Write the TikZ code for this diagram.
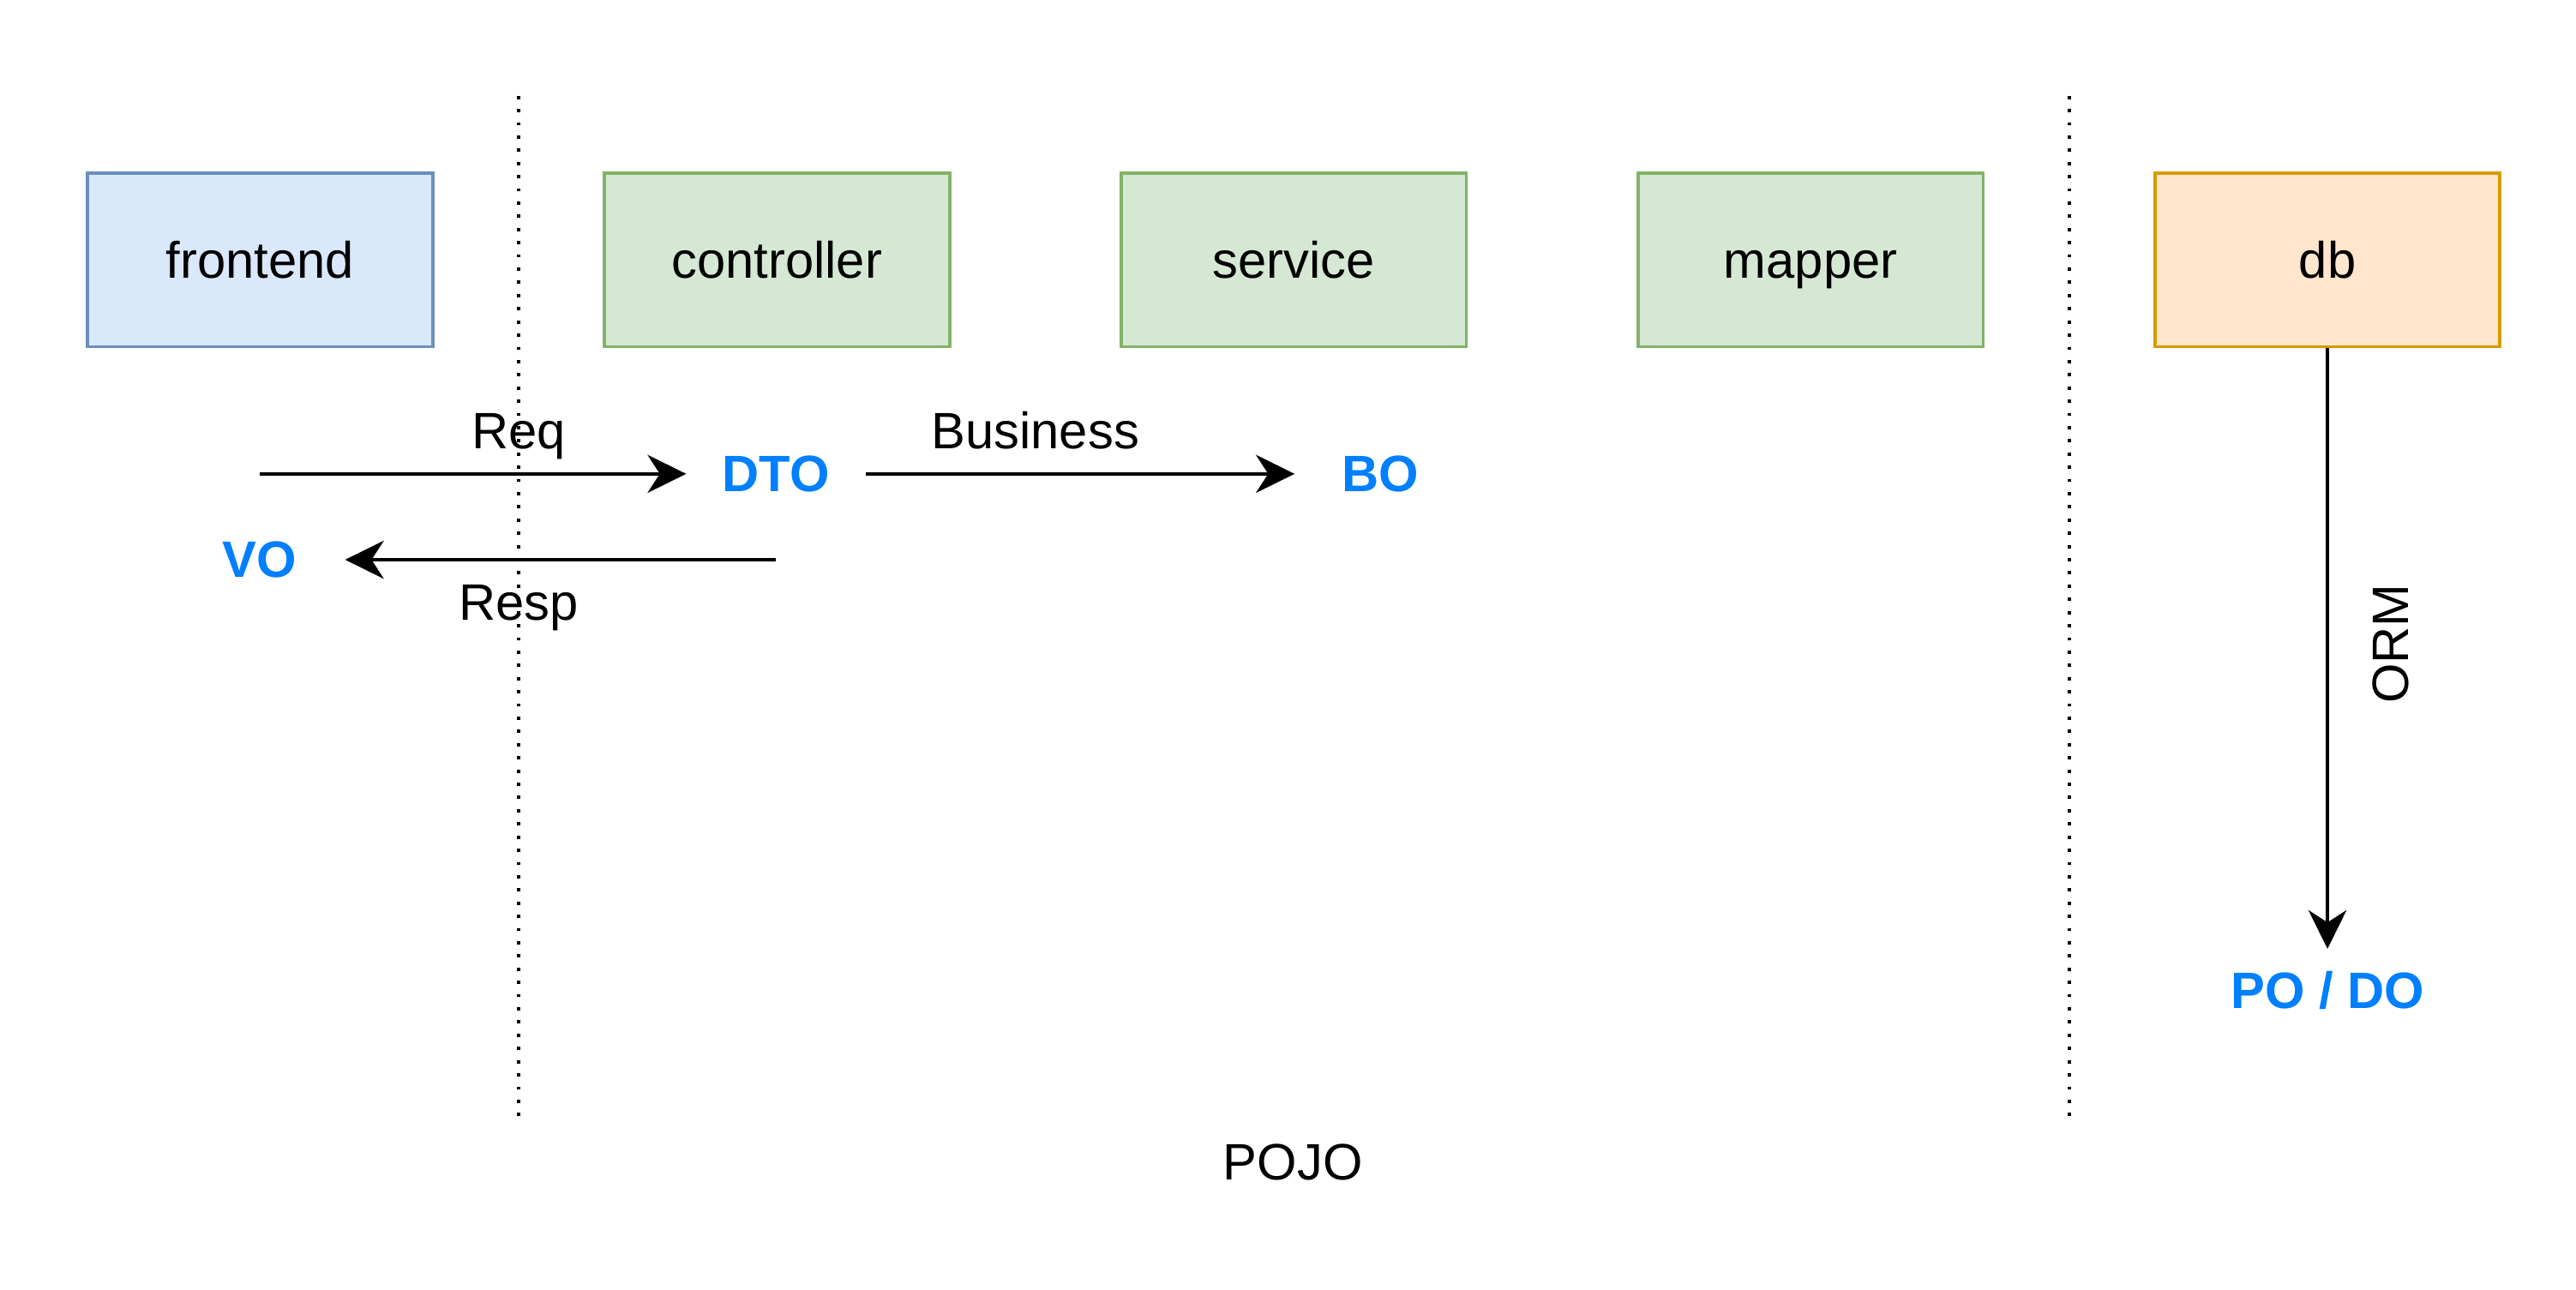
\documentclass[tikz,border=0pt]{standalone}
\usepackage{fontspec}
\setmainfont{Liberation Sans}
\usetikzlibrary{arrows.meta}
\definecolor{feFill}{HTML}{DAE8FC}
\definecolor{feLine}{HTML}{6C8EBF}
\definecolor{beFill}{HTML}{D5E8D4}
\definecolor{beLine}{HTML}{82B366}
\definecolor{dbFill}{HTML}{FFE6CC}
\definecolor{dbLine}{HTML}{D79B00}
\definecolor{objBlue}{HTML}{007FFF}

\begin{document}
\begin{tikzpicture}[x=0.5pt, y=-0.5pt,
    every node/.style={font=\fontsize{15.5}{18.6}\selectfont, text height=14.03pt, text depth=3.29pt},
    layer/.style={draw, line width=1pt, minimum width=104.5pt, minimum height=52.5pt, inner sep=0pt},
    obj/.style={text=objBlue, font=\fontsize{15.5}{18.6}\selectfont\bfseries, minimum width=30pt,
        inner xsep=0pt, inner ysep=0pt, outer xsep=11pt, outer ysep=4pt},
    flow/.style={-{Stealth[length=11.7pt, width=11.5pt, inset=3.7pt]}, line width=1pt},
    divider/.style={line width=1pt, dash pattern=on 1pt off 3pt}]
    \useasboundingbox (0,0) rectangle (1560,781.3);

    % Layers
    \node[layer, fill=feFill, draw=feLine] (frontend) at (157.5,157.5) {frontend};
    \node[layer, fill=beFill, draw=beLine] (controller) at (470.5,157.5) {controller};
    \node[layer, fill=beFill, draw=beLine] (service) at (783.5,157.5) {service};
    \node[layer, fill=beFill, draw=beLine] (mapper) at (1096.5,157.5) {mapper};
    \node[layer, fill=dbFill, draw=dbLine] (db) at (1409.5,157.5) {db};

    % Boundaries
    \draw[divider] (314,58) -- (314,680);
    \draw[divider] (1253,58) -- (1253,680);

    % Objects
    \node[obj] (dto) at (470,287) {DTO};
    \node[obj] (bo) at (836,287) {BO};
    \node[obj] (vo) at (157,339) {VO};
    \node[obj] (podo) at (1409.5,600) {PO / DO};

    % Connect nodes
    \draw[flow] (frontend |- dto) -- (dto);
    \draw[flow] (dto) -- (bo);
    \draw[flow] (dto |- vo) -- (vo);
    \draw[flow] (db) -- (podo);

    % Labels
    \node (req) at (314,261) {Req};
    \node (business) at (627,261) {Business};
    \node (resp) at (314,365) {Resp};
    \node[rotate=90] (orm) at (1448,390) {ORM};
    \node (pojo) at (783,704) {POJO};
\end{tikzpicture}
\end{document}
